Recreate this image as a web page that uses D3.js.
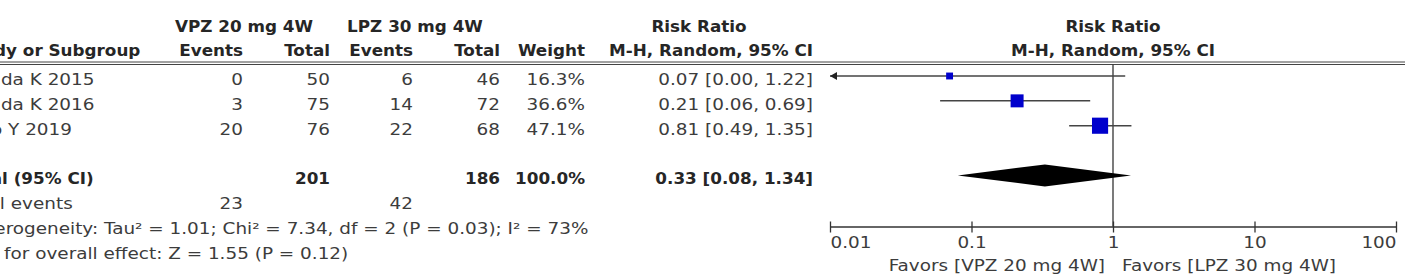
<!DOCTYPE html>
<html>
<head>
<meta charset="utf-8">
<script src="https://cdn.jsdelivr.net/npm/d3@7"></script>
<style>
  body { margin: 0; background: #fff; }
  text { font-family: "DejaVu Sans", Verdana, sans-serif; }
</style>
</head>
<body>
<div id="forest"></div>
<script>
const width = 1405;
const height = 278;

// data
const studies = ["Ashida K 2015", "Ashida K 2016", "Xiao Y 2019"];
const vpzEvents = [0, 3, 20];
const vpzTotal = [50, 75, 76];
const lpzEvents = [6, 14, 22];
const lpzTotal = [46, 72, 68];
const weights = [16.3, 36.6, 47.1];
const riskRatio = [0.07, 0.21, 0.81];
const ciLow = [0.00, 0.06, 0.49];
const ciHigh = [1.22, 0.69, 1.35];
const pooled = [0.33, 0.08, 1.34];
const axisTicks = [0.01, 0.1, 1, 10, 100];
const tickLabels = ["0.01", "0.1", "1", "10", "100"];
const groupA = "VPZ 20 mg 4W";
const groupB = "LPZ 30 mg 4W";
const heterogeneity = "Heterogeneity: Tau\u00B2 = 1.01; Chi\u00B2 = 7.34, df = 2 (P = 0.03); I\u00B2 = 73%";
const overallEffect = "Test for overall effect: Z = 1.55 (P = 0.12)";

const f2 = d3.format(".2f");
const f1 = d3.format(".1f");

// rows: 0-2 studies, 3 blank, 4 total, 5 events, 6 heterogeneity, 7 overall
const row = d3.scaleLinear().domain([0, 7]).range([85, 259]);
const x = d3.scaleLog().domain([0.01, 100]).range([830, 1396]);
const box = d3.scaleLinear().domain([0, 50]).range([2, 17]);
const axisY = 226.5;
const headerTop = 62;

// column right edges
const col = {label: -38, aEv: 243, aTot: 330, bEv: 413, bTot: 500, weight: 585, ci: 813};

const svg = d3.select("#forest")
  .append("svg")
  .attr("width", width)
  .attr("height", height);

function txt(px, py, s, opts = {}) {
  const bold = !!opts.bold;
  const sx = bold ? 1.05 : 1.15;
  return svg.append("text")
    .attr("transform", `translate(${px},${py}) scale(${sx},1)`)
    .attr("text-anchor", opts.anchor || "start")
    .attr("font-size", 16)
    .attr("font-weight", bold ? "bold" : "normal")
    .attr("fill", bold ? "#262626" : "#3c3c3c")
    .text(s);
}

// headers
txt(244, 32, groupA, {bold: true, anchor: "middle"});
txt(415, 32, groupB, {bold: true, anchor: "middle"});
txt(699, 32, "Risk Ratio", {bold: true, anchor: "middle"});
txt(x(1), 32, "Risk Ratio", {bold: true, anchor: "middle"});
txt(col.label, 56, "Study or Subgroup", {bold: true});
txt(col.aEv, 56, "Events", {bold: true, anchor: "end"});
txt(col.aTot, 56, "Total", {bold: true, anchor: "end"});
txt(col.bEv, 56, "Events", {bold: true, anchor: "end"});
txt(col.bTot, 56, "Total", {bold: true, anchor: "end"});
txt(col.weight, 56, "Weight", {bold: true, anchor: "end"});
txt(col.ci, 56, "M-H, Random, 95% CI", {bold: true, anchor: "end"});
txt(x(1), 56, "M-H, Random, 95% CI", {bold: true, anchor: "middle"});

svg.selectAll("line.hdr")
  .data([headerTop, headerTop + 2.5])
  .join("line")
    .attr("class", "hdr")
    .attr("x1", 0)
    .attr("x2", width)
    .attr("y1", d => d)
    .attr("y2", d => d)
    .attr("stroke", "#444")
    .attr("stroke-width", 1);

// study rows
studies.forEach((s, i) => {
  const y = row(i);
  txt(col.label, y, s);
  txt(col.aEv, y, vpzEvents[i], {anchor: "end"});
  txt(col.aTot, y, vpzTotal[i], {anchor: "end"});
  txt(col.bEv, y, lpzEvents[i], {anchor: "end"});
  txt(col.bTot, y, lpzTotal[i], {anchor: "end"});
  txt(col.weight, y, f1(weights[i]) + "%", {anchor: "end"});
  txt(col.ci, y, `${f2(riskRatio[i])} [${f2(ciLow[i])}, ${f2(ciHigh[i])}]`, {anchor: "end"});
});

// totals
const yTot = row(4);
txt(col.label, yTot, "Total (95% CI)", {bold: true});
txt(col.aTot, yTot, d3.sum(vpzTotal), {bold: true, anchor: "end"});
txt(col.bTot, yTot, d3.sum(lpzTotal), {bold: true, anchor: "end"});
txt(col.weight, yTot, f1(d3.sum(weights)) + "%", {bold: true, anchor: "end"});
txt(col.ci, yTot, `${f2(pooled[0])} [${f2(pooled[1])}, ${f2(pooled[2])}]`, {bold: true, anchor: "end"});
txt(col.label, row(5), "Total events");
txt(col.aEv, row(5), d3.sum(vpzEvents), {anchor: "end"});
txt(col.bEv, row(5), d3.sum(lpzEvents), {anchor: "end"});
txt(col.label, row(6), heterogeneity);
txt(col.label, row(7), overallEffect);

// plot
const [dMin] = x.domain();
const plot = svg.append("g");

plot.append("line")
  .attr("x1", x(1))
  .attr("x2", x(1))
  .attr("y1", headerTop + 2.5)
  .attr("y2", axisY)
  .attr("stroke", "#333")
  .attr("stroke-width", 1.3);

const rows = studies.map((s, i) => ({i, rr: riskRatio[i], lo: ciLow[i], hi: ciHigh[i], w: weights[i]}));

plot.selectAll("line.ci")
  .data(rows)
  .join("line")
    .attr("class", "ci")
    .attr("x1", d => x(Math.max(d.lo, dMin)))
    .attr("x2", d => x(d.hi))
    .attr("y1", d => row(d.i) - 9)
    .attr("y2", d => row(d.i) - 9)
    .attr("stroke", "#444")
    .attr("stroke-width", 1.5);

plot.selectAll("path.arrow")
  .data(rows.filter(d => d.lo < dMin))
  .join("path")
    .attr("class", "arrow")
    .attr("d", d => {
      const ax = x(dMin), ay = row(d.i) - 9;
      return `M${ax},${ay}L${ax + 7},${ay - 4}L${ax + 7},${ay + 4}Z`;
    })
    .attr("fill", "#222");

plot.selectAll("rect.box")
  .data(rows)
  .join("rect")
    .attr("class", "box")
    .attr("x", d => x(d.rr) - box(d.w) / 2)
    .attr("y", d => row(d.i) - 9 - box(d.w) / 2)
    .attr("width", d => box(d.w))
    .attr("height", d => box(d.w))
    .attr("fill", "#0000cc");

const yd = yTot - 9;
plot.append("path")
  .attr("d", `M${x(pooled[1])},${yd}L${x(pooled[0])},${yd - 11}L${x(pooled[2])},${yd}L${x(pooled[0])},${yd + 11}Z`)
  .attr("fill", "#000");

// axis
const axis = plot.append("g")
  .attr("transform", `translate(0,${axisY})`)
  .call(d3.axisBottom(x)
    .tickValues(axisTicks)
    .tickFormat((d, i) => tickLabels[i])
    .tickSizeOuter(0));

axis.select(".domain").attr("stroke", "#333").attr("stroke-width", 1.3);
axis.selectAll(".tick line")
  .attr("y1", -5)
  .attr("y2", 6)
  .attr("stroke", "#333")
  .attr("stroke-width", 1.3);
axis.selectAll(".tick text")
  .attr("y", 0)
  .attr("dy", null)
  .attr("transform", "translate(0,21.5) scale(1.15,1)")
  .attr("font-size", 16)
  .attr("font-family", "DejaVu Sans")
  .attr("fill", "#3c3c3c")
  .attr("text-anchor", (d, i) => i === 0 ? "start" : i === axisTicks.length - 1 ? "end" : "middle");

txt(x(1) - 8, 271, `Favors [${groupA}]`, {anchor: "end"});
txt(x(1) + 9, 271, `Favors [${groupB}]`);
</script>
</body>
</html>
